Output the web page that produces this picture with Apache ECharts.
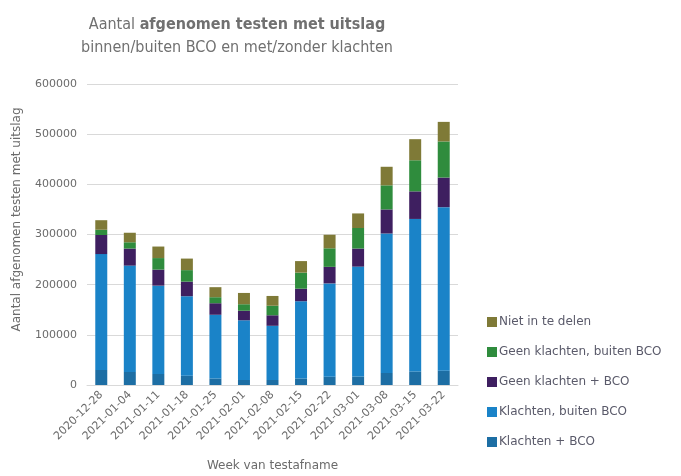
<!DOCTYPE html>
<html>
<head>
<meta charset="utf-8">
<script src="https://cdn.jsdelivr.net/npm/echarts@6/dist/echarts.min.js"></script>
<style>
  html, body { margin: 0; padding: 0; background: #fff; }
  #chart { width: 681px; height: 476px; }
</style>
</head>
<body>
<div id="chart"></div>
<script>
// weken
const weeks = ['2020-12-28', '2021-01-04', '2021-01-11', '2021-01-18', '2021-01-25', '2021-02-01', '2021-02-08',
  '2021-02-15', '2021-02-22', '2021-03-01', '2021-03-08', '2021-03-15', '2021-03-22'];

// waarden per categorie (van onder naar boven gestapeld)
const klachtenBco = [30000, 26000, 22000, 18500, 13000, 10000, 10000, 13000, 16500, 17000, 24000, 27000, 28500];
const klachtenBuiten = [231000, 212000, 176000, 158500, 127000, 119000, 108000, 154000, 186000, 219000, 278000, 304000, 326000];
const geenKlachtenBco = [38000, 34000, 32000, 29000, 23000, 19000, 21000, 25000, 33000, 36000, 48000, 55000, 59000];
const geenKlachtenBuiten = [10500, 12500, 23000, 23000, 12000, 13000, 19000, 32000, 37000, 41000, 48000, 62000, 72000];
const nietInTeDelen = [19000, 19000, 23000, 23000, 20000, 22500, 19500, 23000, 27000, 29000, 37000, 42000, 39000];

const textColor = '#6b6b6b';
const font = 'DejaVu Sans';
const titleFont = 'DejaVu Sans Condensed';

let chart = echarts.init(document.getElementById('chart'));

function bar(name, data, color) {
  return {
    name: name,
    type: 'bar',
    stack: 'totaal',
    barWidth: '42%',
    data: data,
    itemStyle: { color: color }
  };
}

let option = {
  animation: false,
  textStyle: { fontFamily: font },
  title: {
    text: 'Aantal {b|afgenomen testen met uitslag}\nbinnen/buiten BCO en met/zonder klachten',
    left: 232,
    textAlign: 'center',
    top: 8,
    textStyle: {
      fontFamily: titleFont,
      fontSize: 16,
      fontWeight: 'normal',
      color: '#707070',
      lineHeight: 23,
      rich: {
        b: { fontFamily: titleFont, fontSize: 16, fontWeight: 'bold', color: '#707070' }
      }
    }
  },
  legend: {
    orient: 'vertical',
    left: 482,
    top: 311,
    itemGap: 18,
    itemWidth: 10,
    itemHeight: 10,
    icon: 'rect',
    data: ['Niet in te delen', 'Geen klachten, buiten BCO', 'Geen klachten + BCO', 'Klachten, buiten BCO', 'Klachten + BCO'],
    textStyle: { fontFamily: font, fontSize: 12, color: '#5a5a6a', padding: [0, 0, 0, -3] }
  },
  grid: { left: 87, right: 223, top: 84, bottom: 91, outerBoundsMode: 'none', containLabel: false },
  xAxis: {
    type: 'category',
    data: weeks,
    name: 'Week van testafname',
    nameLocation: 'middle',
    nameGap: 75,
    nameTextStyle: { fontFamily: font, fontSize: 12, color: textColor },
    axisLine: { lineStyle: { color: '#d9d9d9' } },
    axisTick: { show: false },
    axisLabel: { rotate: 45, fontSize: 11, color: textColor, margin: 8, interval: 0 }
  },
  yAxis: {
    type: 'value',
    min: 0,
    max: 600000,
    interval: 100000,
    name: 'Aantal afgenomen testen met uitslag',
    nameLocation: 'middle',
    nameGap: 64,
    nameTextStyle: { fontFamily: font, fontSize: 12, color: textColor, padding: [0, 0, 0, 30] },
    axisLine: { show: false },
    axisTick: { show: false },
    axisLabel: { fontSize: 11, color: textColor, margin: 10, formatter: (v) => String(v) },
    splitLine: { lineStyle: { color: '#d9d9d9' } }
  },
  series: [
    bar('Klachten + BCO', klachtenBco, '#1d6ea4'),
    bar('Klachten, buiten BCO', klachtenBuiten, '#1a83c8'),
    bar('Geen klachten + BCO', geenKlachtenBco, '#3e1f60'),
    bar('Geen klachten, buiten BCO', geenKlachtenBuiten, '#2f8c3d'),
    bar('Niet in te delen', nietInTeDelen, '#7f7a37')
  ]
};

chart.setOption(option);
window.addEventListener('resize', chart.resize);
</script>
</body>
</html>
